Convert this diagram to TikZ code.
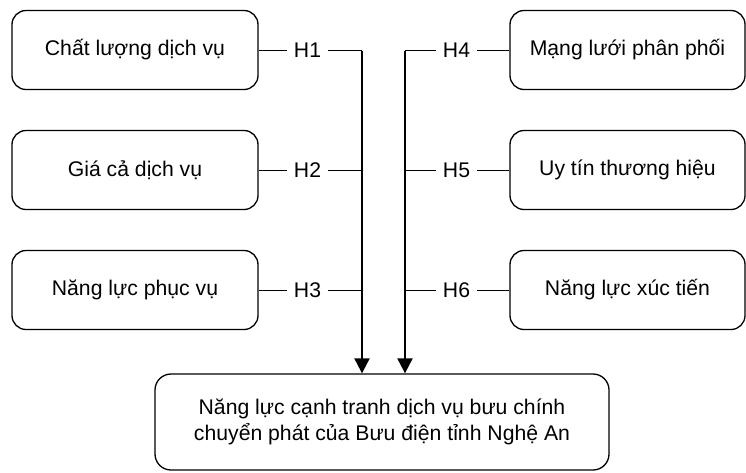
\documentclass[tikz,border=0pt]{standalone}
\usepackage{fontspec}
\setmainfont{Liberation Sans}
\usetikzlibrary{arrows.meta}

\tikzset{
    factor/.style={draw, line width=1.3pt, rounded corners=14pt,
        minimum height=79pt, align=center, font=\fontsize{21.2}{25.5}\selectfont},
    hyp/.style={inner xsep=7pt, inner ysep=0pt, font=\fontsize{21.2}{25.5}\selectfont},
    link/.style={line width=1pt},
    trunk/.style={line width=2pt, -{Triangle[width=15pt, length=15pt]}}
}

\begin{document}
\begin{tikzpicture}[x=1pt, y=-1pt]
    \useasboundingbox (0, 0) rectangle (746, 472);

    % Left column of factors
    \node[factor, minimum width=246pt] (f1) at (135, 50) {Chất lượng dịch vụ};
    \node[factor, minimum width=246pt] (f2) at (135, 170) {Giá cả dịch vụ};
    \node[factor, minimum width=246pt] (f3) at (135, 290) {Năng lực phục vụ};

    % Right column of factors
    \node[factor, minimum width=235pt] (f4) at (627.5, 50) {Mạng lưới phân phối};
    \node[factor, minimum width=235pt] (f5) at (627.5, 170) {Uy tín thương hiệu};
    \node[factor, minimum width=235pt] (f6) at (627.5, 290) {Năng lực xúc tiến};

    % Target
    \node[factor, minimum width=454pt, minimum height=96pt, rounded corners=16pt] (goal) at (382, 422)
        {Năng lực cạnh tranh dịch vụ bưu chính\\chuyển phát của Bưu điện tỉnh Nghệ An};

    % Hypothesis labels
    \node[hyp] (h1) at (307.5, 50) {H1};
    \node[hyp] (h2) at (307.5, 170) {H2};
    \node[hyp] (h3) at (307.5, 290) {H3};
    \node[hyp] (h4) at (456.5, 50) {H4};
    \node[hyp] (h5) at (456.5, 170) {H5};
    \node[hyp] (h6) at (456.5, 290) {H6};

    % Tops of the two trunks
    \coordinate (trunkL) at (362, 50);
    \coordinate (trunkR) at (405, 50);

    % Left links
    \draw[link] (f1.east) -- (h1.west);
    \draw[link] (f2.east) -- (h2.west);
    \draw[link] (f3.east) -- (h3.west);
    \draw[link] (h1.east) -- (trunkL);
    \draw[link] (h2.east) -- (h2.east -| trunkL);
    \draw[link] (h3.east) -- (h3.east -| trunkL);

    % Right links
    \draw[link] (h4.east) -- (f4.west);
    \draw[link] (h5.east) -- (f5.west);
    \draw[link] (h6.east) -- (f6.west);
    \draw[link] (trunkR) -- (h4.west);
    \draw[link] (h5.west -| trunkR) -- (h5.west);
    \draw[link] (h6.west -| trunkR) -- (h6.west);

    % Trunks down to the target
    \draw[trunk] ([yshift=-1pt]trunkL) -- (trunkL |- goal.north);
    \draw[trunk] ([yshift=-1pt]trunkR) -- (trunkR |- goal.north);
\end{tikzpicture}
\end{document}
